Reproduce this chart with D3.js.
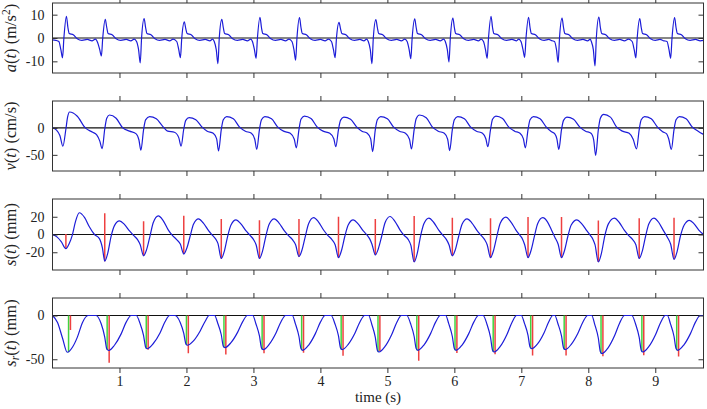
<!DOCTYPE html>
<html><head><meta charset="utf-8">
<script src="https://cdn.jsdelivr.net/npm/d3@7"></script>
<style>
body{margin:0;background:#fff}
svg text{font-family:'Liberation Serif','Times New Roman',serif;fill:#222}
</style>
</head><body><svg id="c" width="707" height="409"></svg>
<script>
// ---------- data ----------
const xTicks = [1,2,3,4,5,6,7,8,9];
const xDomain = [0, 9.72];

const aTicks = [-10, 0, 10];
const vTicks = [-50, 0];
const sTicks = [-20, 0, 20];
const srTicks = [-50, 0];

// beat times (s) = red stem positions in s(t)
const beatT = [0.20,0.78,1.36,1.96,2.52,3.09,3.68,4.27,4.82,5.40,5.97,6.54,7.10,7.60,8.15,8.76,9.28];

// acceleration a(t) (m/s^2) key points [t, a]
const aPts = [
[0,-0.8],[0.05,-1.0],
[0.095,-1.5],[0.125,-5],[0.15,-8.5],[0.17,0],[0.208,9.3],[0.23,4.5],[0.25,1.9],[0.31,1.4],[0.37,-0.3],[0.44,-1],[0.52,-0.6],[0.59,-1.2],[0.64,-0.5],
[0.675,-2],[0.705,-5],[0.73,-7.7],[0.75,0],[0.788,8.0],[0.81,4.5],[0.83,1.9],[0.89,1.4],[0.95,-0.3],[1.02,-1],[1.10,-0.6],[1.17,-1.2],[1.22,-0.5],
[1.255,-1.5],[1.285,-5],[1.31,-10.7],[1.33,0],[1.368,8.3],[1.39,4.5],[1.41,1.9],[1.47,1.4],[1.53,-0.3],[1.60,-1],[1.68,-0.6],[1.75,-1.2],[1.80,-0.5],
[1.855,-1.5],[1.885,-5],[1.91,-8.4],[1.93,0],[1.968,6.9],[1.99,4],[2.01,1.9],[2.07,1.4],[2.13,-0.3],[2.20,-1],[2.28,-0.6],[2.35,-1.2],[2.39,-0.5],
[2.415,-1.5],[2.445,-5],[2.47,-11],[2.49,0],[2.528,8.0],[2.55,4.5],[2.57,1.9],[2.63,1.4],[2.69,-0.3],[2.76,-1],[2.84,-0.6],[2.91,-1.2],[2.96,-0.5],
[2.985,-1.5],[3.015,-5],[3.04,-8.7],[3.06,0],[3.098,8.9],[3.12,4.5],[3.14,1.9],[3.20,1.4],[3.26,-0.3],[3.33,-1],[3.41,-0.6],[3.48,-1.2],[3.53,-0.5],
[3.575,-1.5],[3.605,-5],[3.63,-9.5],[3.65,0],[3.688,8.7],[3.71,4.5],[3.73,1.9],[3.79,1.4],[3.85,-0.3],[3.92,-1],[4.00,-0.6],[4.07,-1.2],[4.12,-0.5],
[4.165,-1.5],[4.195,-5],[4.22,-8.4],[4.24,0],[4.278,6.7],[4.30,4],[4.32,1.9],[4.38,1.4],[4.44,-0.3],[4.51,-1],[4.59,-0.6],[4.65,-1.2],[4.69,-0.5],
[4.715,-1.5],[4.745,-5],[4.77,-11],[4.79,0],[4.828,7.9],[4.85,4.5],[4.87,1.9],[4.93,1.4],[4.99,-0.3],[5.06,-1],[5.14,-0.6],[5.21,-1.2],[5.26,-0.5],
[5.295,-1.5],[5.325,-5],[5.35,-8.9],[5.37,0],[5.408,8.2],[5.43,4.5],[5.45,1.9],[5.51,1.4],[5.57,-0.3],[5.64,-1],[5.72,-0.6],[5.79,-1.2],[5.84,-0.5],
[5.865,-1.5],[5.895,-5],[5.92,-10.3],[5.94,0],[5.978,8.5],[6.00,4.5],[6.02,1.9],[6.08,1.4],[6.14,-0.3],[6.21,-1],[6.29,-0.6],[6.36,-1.2],[6.40,-0.5],
[6.435,-1.5],[6.465,-5],[6.49,-8.7],[6.51,0],[6.548,9.3],[6.57,4.5],[6.59,1.9],[6.65,1.4],[6.71,-0.3],[6.78,-1],[6.86,-0.6],[6.93,-1.2],[6.96,-0.5],
[6.995,-1.5],[7.025,-5],[7.05,-8.3],[7.07,0],[7.108,8.9],[7.13,4.5],[7.15,1.9],[7.21,1.4],[7.27,-0.3],[7.34,-1],[7.41,-0.6],[7.46,-1.2],
[7.495,-1.5],[7.525,-5],[7.55,-10.5],[7.57,0],[7.608,8.5],[7.63,4.5],[7.65,1.9],[7.71,1.4],[7.77,-0.3],[7.84,-1],[7.92,-0.6],[7.99,-1.2],[8.03,-0.5],
[8.045,-1.5],[8.075,-5],[8.10,-12],[8.12,0],[8.158,9.0],[8.18,4.5],[8.20,1.9],[8.26,1.4],[8.32,-0.3],[8.39,-1],[8.47,-0.6],[8.54,-1.2],[8.60,-0.5],
[8.655,-1.5],[8.685,-5],[8.71,-8.5],[8.73,0],[8.768,8.3],[8.79,4.5],[8.81,1.9],[8.87,1.4],[8.93,-0.3],[9.00,-1],[9.07,-0.6],[9.13,-1.2],
[9.175,-1.5],[9.205,-5],[9.23,-8.7],[9.25,0],[9.288,8.7],[9.31,4.5],[9.33,1.9],[9.39,1.4],[9.45,-0.3],[9.52,-1],[9.60,-0.6],[9.67,-1.2],[9.72,-1]
];

// velocity v(t) (cm/s) key points [t, v]
const vPts = [
[0,0],[0.06,-4],[0.11,-14],
[0.155,-34],[0.20,-2],[0.225,20],[0.255,29.6],[0.37,21.6],[0.49,0],[0.60,-8],[0.66,-13],[0.705,-24],
[0.742,-38.5],[0.78,-2],[0.81,18],[0.85,24],[0.95,18],[1.05,0],[1.15,-6],[1.25,-11],[1.29,-22],
[1.32,-41.5],[1.36,-3],[1.39,15],[1.45,21],[1.55,17],[1.64,3.7],[1.72,-6],[1.82,-8],[1.885,-18],
[1.92,-34],[1.96,-2],[1.99,14],[2.04,19],[2.14,15],[2.23,2],[2.31,-6],[2.40,-10],[2.45,-20],
[2.48,-42.6],[2.52,-3],[2.55,15],[2.60,21],[2.70,17],[2.79,2],[2.88,-6],[2.97,-10],[3.02,-21],
[3.05,-40],[3.09,-3],[3.12,15],[3.17,21],[3.27,17],[3.36,2],[3.45,-6],[3.55,-10],[3.61,-21],
[3.64,-37],[3.68,-3],[3.71,16],[3.76,22],[3.86,17.5],[3.95,2],[4.04,-6],[4.14,-10],[4.20,-20],
[4.23,-35],[4.27,-3],[4.30,14],[4.35,20],[4.45,16],[4.54,2],[4.62,-6],[4.70,-10],[4.75,-20],
[4.78,-44],[4.82,-3],[4.85,15],[4.90,21],[5.00,17],[5.09,2],[5.18,-6],[5.27,-10],[5.33,-21],
[5.36,-39],[5.40,-3],[5.43,17],[5.48,24],[5.58,19],[5.67,2],[5.76,-6],[5.85,-10],[5.90,-21],
[5.93,-42],[5.97,-3],[6.00,15],[6.05,21],[6.15,17],[6.24,2],[6.33,-6],[6.42,-10],[6.47,-20],
[6.50,-35],[6.54,-3],[6.57,16],[6.62,22],[6.72,17.5],[6.81,2],[6.90,-6],[6.98,-10],[7.03,-20],
[7.06,-37],[7.10,-3],[7.13,15],[7.18,21],[7.28,17],[7.37,2],[7.45,-7],[7.50,-11],[7.53,-20],
[7.56,-40],[7.60,-3],[7.63,14],[7.68,20],[7.78,16],[7.87,2],[7.96,-6],[8.04,-10],[8.08,-22],
[8.11,-51],[8.15,-3],[8.18,18],[8.23,25],[8.33,20],[8.42,2],[8.51,-6],[8.61,-10],[8.67,-21],
[8.72,-39],[8.76,-3],[8.79,15],[8.84,21],[8.94,17],[9.03,2],[9.11,-7],[9.17,-11],[9.20,-20],
[9.24,-40],[9.28,-3],[9.31,15],[9.36,21],[9.46,17],[9.55,2],[9.64,-6],[9.72,-12]
];

// displacement s(t) (mm) key points [t, s]
const sPts = [
[0,0],[0.07,-3],[0.13,-8],
[0.20,-16],[0.245,-11],[0.295,-1],[0.345,15],[0.40,24.5],[0.48,19],[0.55,8.7],[0.627,0],[0.70,-4.6],[0.745,-15],
[0.78,-30],[0.825,-21],[0.875,-2],[0.925,10],[1.0,15.3],[1.07,11.7],[1.15,4],[1.21,-1],[1.27,-5.7],[1.31,-11.5],
[1.36,-24],[1.405,-17],[1.455,-2],[1.505,13.5],[1.58,21],[1.65,16],[1.73,5],[1.79,-1],[1.85,-5.5],[1.91,-11],
[1.96,-22],[2.005,-15.5],[2.055,-2],[2.105,11.5],[2.18,17.6],[2.25,13],[2.33,4.4],[2.39,-1],[2.44,-5.5],[2.47,-10],
[2.52,-27],[2.565,-19],[2.615,-2],[2.665,10.7],[2.74,16.4],[2.81,12.3],[2.89,4],[2.95,-1],[3.0,-5.5],[3.04,-11.5],
[3.09,-27],[3.135,-19],[3.185,-2],[3.235,11.5],[3.31,17.6],[3.38,13.2],[3.46,4.4],[3.52,-1],[3.58,-5.5],[3.63,-11.5],
[3.68,-25],[3.725,-17.5],[3.775,-2],[3.825,12.4],[3.90,19],[3.97,14.3],[4.05,4.8],[4.11,-1],[4.17,-5.5],[4.22,-11.5],
[4.27,-26],[4.315,-18],[4.365,-2],[4.415,10.7],[4.49,16.4],[4.56,12.3],[4.64,4],[4.70,-1],[4.74,-5.5],[4.77,-11],
[4.82,-23],[4.865,-16],[4.915,-2],[4.965,13.2],[5.04,20.3],[5.11,15.2],[5.19,5],[5.25,-1],[5.31,-5.5],[5.35,-12],
[5.40,-31],[5.445,-21.5],[5.495,-2],[5.545,12],[5.62,18.4],[5.69,13.8],[5.77,4.6],[5.83,-1],[5.88,-5.5],[5.92,-11.5],
[5.97,-24],[6.015,-17],[6.065,-2],[6.115,11.5],[6.19,17.6],[6.26,13.2],[6.34,4.4],[6.40,-1],[6.45,-5.5],[6.49,-11.5],
[6.54,-26],[6.585,-18],[6.635,-2],[6.685,12.7],[6.77,19.5],[6.84,14.6],[6.92,5],[6.98,-1],[7.02,-5.5],[7.05,-11.5],
[7.10,-26],[7.145,-18],[7.195,-2],[7.245,12.4],[7.32,19],[7.39,14.3],[7.45,5],[7.50,-3],[7.55,-11],
[7.60,-26],[7.645,-18],[7.695,-2],[7.745,10.7],[7.83,16.4],[7.90,12.3],[7.98,4],[8.03,-1],[8.07,-5.5],[8.10,-11.5],
[8.15,-31],[8.195,-21.5],[8.245,-2],[8.30,12],[8.39,18.4],[8.46,13.8],[8.54,4.6],[8.60,-1],[8.66,-5.5],[8.71,-11.5],
[8.76,-27],[8.805,-19],[8.855,-2],[8.905,12],[8.98,18.4],[9.05,13.8],[9.12,4.6],[9.18,-3],[9.23,-11],
[9.28,-28],[9.325,-19.5],[9.375,-2],[9.43,10.4],[9.51,16],[9.58,12],[9.65,5],[9.72,0]
];
// red stems in s(t): from the minimum (sMin) up to sTop, at beatT
const sMin = [-16,-30,-24,-22,-27,-27,-25,-26,-23,-31,-24,-26,-26,-26,-31,-27,-28];
const sTop = [0.5,24,15,21,17.6,16,17.6,20,17.6,20.8,18.8,18.4,19.6,19.6,15.7,18.4,18.8];

// s_r(t) (mm) key points [t, s_r]
const srPts = [
[0,0],[0.075,-8],[0.15,-26],[0.22,-42],[0.30,-36],[0.37,-25],[0.45,-7.6],[0.53,0],
[0.65,0],[0.727,-9.5],[0.78,-24.6],[0.81,-38],[0.84,-40],[0.925,-34],[1.025,-21],[1.10,-7.6],[1.175,0],
[1.25,0],[1.307,-9],[1.36,-23],[1.39,-36],[1.41,-38],[1.505,-32],[1.605,-20],[1.68,-7.2],[1.75,0],
[1.83,0],[1.907,-8],[1.96,-20.5],[1.99,-32],[2.01,-34],[2.105,-29],[2.205,-17.7],[2.28,-6.5],[2.34,0],
[2.42,0],[2.467,-8.8],[2.52,-22],[2.55,-35],[2.575,-36.7],[2.665,-31],[2.765,-19],[2.84,-7],[2.91,0],
[2.99,0],[3.037,-9.4],[3.09,-23.4],[3.12,-37],[3.145,-39],[3.235,-33],[3.335,-20.3],[3.41,-7.4],[3.48,0],
[3.58,0],[3.627,-9.5],[3.68,-24],[3.71,-37.8],[3.735,-39.8],[3.825,-33.8],[3.925,-20.7],[4.00,-7.6],[4.07,0],
[4.16,0],[4.217,-9.4],[4.27,-23.4],[4.30,-37],[4.325,-39],[4.415,-33],[4.515,-20.3],[4.59,-7.4],[4.66,0],
[4.72,0],[4.767,-10],[4.82,-25],[4.85,-39.6],[4.875,-41.7],[4.965,-35.4],[5.065,-21.7],[5.14,-7.9],[5.21,0],
[5.29,0],[5.347,-9.5],[5.40,-24],[5.43,-37.8],[5.455,-39.8],[5.545,-33.8],[5.645,-20.7],[5.72,-7.6],[5.79,0],
[5.87,0],[5.917,-9.5],[5.97,-24],[6.00,-37.8],[6.025,-39.8],[6.115,-33.8],[6.215,-20.7],[6.29,-7.6],[6.36,0],
[6.43,0],[6.487,-10],[6.54,-25],[6.57,-39.6],[6.595,-41.7],[6.685,-35.4],[6.785,-21.7],[6.86,-7.9],[6.93,0],
[7.00,0],[7.047,-9],[7.10,-22.7],[7.13,-36],[7.155,-37.9],[7.245,-32.2],[7.34,-19.7],[7.41,-7.2],[7.47,0],
[7.50,0],[7.547,-9.4],[7.60,-23.4],[7.63,-37],[7.655,-39],[7.745,-33],[7.845,-20.3],[7.92,-7.4],[7.99,0],
[8.05,0],[8.097,-10.4],[8.15,-26],[8.18,-41.3],[8.205,-43.5],[8.295,-37],[8.395,-22.6],[8.47,-8.3],[8.54,0],
[8.65,0],[8.707,-10],[8.76,-25],[8.79,-39.6],[8.815,-41.7],[8.905,-35.4],[9.005,-21.7],[9.08,-7.9],[9.15,0],
[9.18,0],[9.227,-9.5],[9.28,-24],[9.31,-37.8],[9.335,-39.8],[9.425,-33.8],[9.525,-20.7],[9.60,-7.6],[9.67,0],[9.72,0]
];
// green stems (0 -> s_r minimum) and red stems (0 -> -(sTop - sMin)) in s_r(t)
const srGreenT = [0.24,0.816,1.40,2.00,2.56,3.13,3.72,4.31,4.86,5.44,6.01,6.58,7.14,7.64,8.19,8.80,9.32];
const srGreenV = [-42,-39.5,-37.8,-33.8,-36.5,-38.8,-39.6,-38.8,-41.5,-39.6,-39.6,-41.5,-37.7,-38.8,-43.3,-41.5,-39.6];
const srRedT = [0.268,0.846,1.428,2.028,2.588,3.158,3.748,4.338,4.888,5.468,6.038,6.608,7.168,7.668,8.218,8.828,9.348];
const srRedV = [-16.5,-54,-39,-43,-44.6,-43,-42.6,-46,-40.6,-51.8,-42.8,-44.4,-45.6,-45.6,-46.7,-45.4,-46.8];

// ---------- drawing ----------
const FONT = "'Liberation Serif', 'Times New Roman', serif";
const svg = d3.select("#c");
const X0 = 52.5, X1 = 703.5;
const x = d3.scaleLinear().domain(xDomain).range([X0, X1]);
const BLUE = "#1c1cd8", RED = "#ee4040", GREEN = "#3fd43f";

const panels = [
  {top:3, bot:73, dom:[-15,15], ticks:aTicks, pts:aPts,
   label:[{t:"a",i:1},{t:"("},{t:"t",i:1},{t:") (m/s"},{t:"2",sup:1},{t:")"}]},
  {top:101, bot:171, dom:[-80,50], ticks:vTicks, pts:vPts,
   label:[{t:"v",i:1},{t:"("},{t:"t",i:1},{t:") (cm/s)"}]},
  {top:199, bot:270, dom:[-40,40], ticks:sTicks, pts:sPts,
   label:[{t:"s",i:1},{t:"("},{t:"t",i:1},{t:") (mm)"}]},
  {top:298, bot:368, dom:[-60,20], ticks:srTicks, pts:srPts, xlab:true,
   label:[{t:"s",i:1},{t:"r",i:1,sub:1},{t:"("},{t:"t",i:1},{t:") (mm)"}]}
];

panels.forEach((p, k) => {
  const y = d3.scaleLinear().domain(p.dom).range([p.bot, p.top]);
  const g = svg.append("g");
  const cid = "clip" + k;
  svg.append("clipPath").attr("id", cid).append("rect")
     .attr("x", X0).attr("y", p.top).attr("width", X1 - X0).attr("height", p.bot - p.top);

  // zero line
  g.append("line").attr("x1", X0).attr("x2", X1).attr("y1", y(0)).attr("y2", y(0))
   .attr("stroke", "#111").attr("stroke-width", 1.1);

  const pg = g.append("g").attr("clip-path", `url(#${cid})`);

  if (k === 2) {
    pg.selectAll("line.st").data(beatT).join("line")
      .attr("x1", d => x(d)).attr("x2", d => x(d))
      .attr("y1", (d,i) => y(sMin[i])).attr("y2", (d,i) => y(sTop[i]))
      .attr("stroke", RED).attr("stroke-width", 1.5);
  }
  if (k === 3) {
    pg.selectAll("line.gr").data(srGreenT).join("line")
      .attr("x1", d => x(d)).attr("x2", d => x(d))
      .attr("y1", y(0)).attr("y2", (d,i) => y(srGreenV[i]))
      .attr("stroke", GREEN).attr("stroke-width", 1.5);
    pg.selectAll("line.rd").data(srRedT).join("line")
      .attr("x1", d => x(d)).attr("x2", d => x(d))
      .attr("y1", y(0)).attr("y2", (d,i) => y(srRedV[i]))
      .attr("stroke", RED).attr("stroke-width", 1.5);
  }

  const line = d3.line().x(d => x(d[0])).y(d => y(d[1])).curve(d3.curveMonotoneX);
  pg.append("path").attr("d", line(p.pts)).attr("fill", "none")
    .attr("stroke", BLUE).attr("stroke-width", 1.2).attr("stroke-linejoin", "round");

  // axes with inward ticks
  const ax = (gen, tx, ty) => {
    const a = g.append("g").attr("transform", `translate(${tx},${ty})`).call(gen);
    a.attr("font-family", FONT).attr("font-size", 14);
    a.select(".domain").remove();
    a.selectAll(".tick line").attr("stroke", "#333").attr("stroke-width", 1);
    a.selectAll("text").style("font-family", FONT).style("font-size", "14px").attr("fill", "#222");
    return a;
  };
  ax(d3.axisLeft(y).tickValues(p.ticks).tickSize(-5).tickPadding(8)
       .tickFormat(d => d < 0 ? "-" + Math.abs(d) : d), X0, 0);
  ax(d3.axisRight(y).tickValues(p.ticks).tickSize(-5).tickFormat(""), X1, 0);
  ax(d3.axisBottom(x).tickValues(xTicks).tickSize(-5).tickFormat(""), 0, p.top);
  const bAx = ax(d3.axisTop(x).tickValues(xTicks).tickSize(-5).tickFormat(p.xlab ? d3.format("d") : ""), 0, p.bot);
  if (p.xlab) {
    bAx.selectAll("text").attr("transform", "translate(0,21)");
  }

  // frame
  g.append("rect").attr("x", X0).attr("y", p.top).attr("width", X1 - X0).attr("height", p.bot - p.top)
   .attr("fill", "none").attr("stroke", "#333").attr("stroke-width", 1);

  // y label
  const cy = (p.top + p.bot) / 2;
  const t = svg.append("text").attr("transform", `translate(16,${cy}) rotate(-90)`)
    .attr("text-anchor", "middle").style("font-family", FONT).style("font-size", "16.5px");
  let shift = 0;
  p.label.forEach(s => {
    const ts = t.append("tspan").text(s.t);
    if (s.i) ts.attr("font-style", "italic");
    let want = s.sup ? -6 : (s.sub ? 3 : 0);
    if (want !== shift) { ts.attr("dy", want - shift); shift = want; }
    if (s.sup || s.sub) ts.style("font-size", "11.5px");
  });
});

// x label
svg.append("text").attr("x", (X0 + X1) / 2).attr("y", 402).attr("text-anchor", "middle")
  .style("font-family", FONT).style("font-size", "15px").text("time (s)");
</script>
</body></html>
